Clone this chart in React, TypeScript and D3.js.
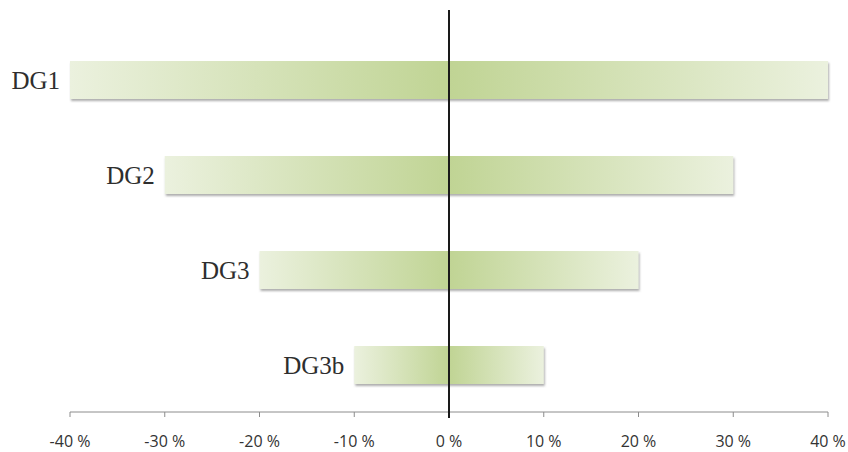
import React from "react";
import * as d3 from "d3";

const categories = ["DG1", "DG2", "DG3", "DG3b"];
const negativeValues = [-40, -30, -20, -10];
const positiveValues = [40, 30, 20, 10];
const tickValues = [-40, -30, -20, -10, 0, 10, 20, 30, 40];

const W = 848;
const H = 452;

export default function App() {
  const x = d3.scaleLinear().domain([-40, 40]).range([70, 828]);
  const y = d3
    .scaleBand<string>()
    .domain(categories)
    .range([32.5, 412.5])
    .paddingInner(0.6)
    .paddingOuter(0.3);
  const axisY = 412;
  const bw = y.bandwidth();

  return (
    <svg
      width={W}
      height={H}
      style={{ position: "fixed", left: 0, top: 0, display: "block", background: "#fff" }}
    >
      <defs>
        <linearGradient id="gradLeft" x1="0" x2="1" y1="0" y2="0">
          <stop offset="0%" stopColor="#ebf1de" />
          <stop offset="100%" stopColor="#c0d494" />
        </linearGradient>
        <linearGradient id="gradRight" x1="0" x2="1" y1="0" y2="0">
          <stop offset="0%" stopColor="#c0d494" />
          <stop offset="100%" stopColor="#ebf1de" />
        </linearGradient>
        <filter id="barShadow" x="-5%" y="-20%" width="110%" height="160%">
          <feDropShadow dx="1" dy="2" stdDeviation="1.3" floodColor="#6b6b6b" floodOpacity="0.55" />
        </filter>
      </defs>

      {categories.map((c, i) => {
        const y0 = y(c)!;
        const xl = x(negativeValues[i]);
        const xr = x(positiveValues[i]);
        const x0 = x(0);
        return (
          <g key={c} filter="url(#barShadow)">
            <rect x={xl} y={y0} width={x0 - xl} height={bw} fill="url(#gradLeft)" />
            <rect x={x0} y={y0} width={xr - x0} height={bw} fill="url(#gradRight)" />
          </g>
        );
      })}

      {categories.map((c, i) => (
        <text
          key={c + "-label"}
          x={x(negativeValues[i]) - 10}
          y={y(c)! + bw / 2}
          dy="0.35em"
          textAnchor="end"
          fontFamily="'Liberation Serif', 'Times New Roman', serif"
          fontSize={25}
          fill="#2e2e2e"
        >
          {c}
        </text>
      ))}

      {/* horizontal axis */}
      <line x1={x(-40)} x2={x(40)} y1={axisY} y2={axisY} stroke="#8c8c8c" strokeWidth={1} />
      {tickValues.map((t) => (
        <g key={t}>
          <line x1={x(t)} x2={x(t)} y1={axisY} y2={axisY + 5} stroke="#8c8c8c" strokeWidth={1} />
          <text
            x={x(t)}
            y={447}
            textAnchor="middle"
            fontFamily="'Open Sans', 'Liberation Sans', sans-serif"
            fontSize={16}
            fill="#333"
          >
            {`${t} %`}
          </text>
        </g>
      ))}

      {/* zero line */}
      <line x1={x(0)} x2={x(0)} y1={10} y2={418} stroke="#1a1a1a" strokeWidth={2} />
    </svg>
  );
}
